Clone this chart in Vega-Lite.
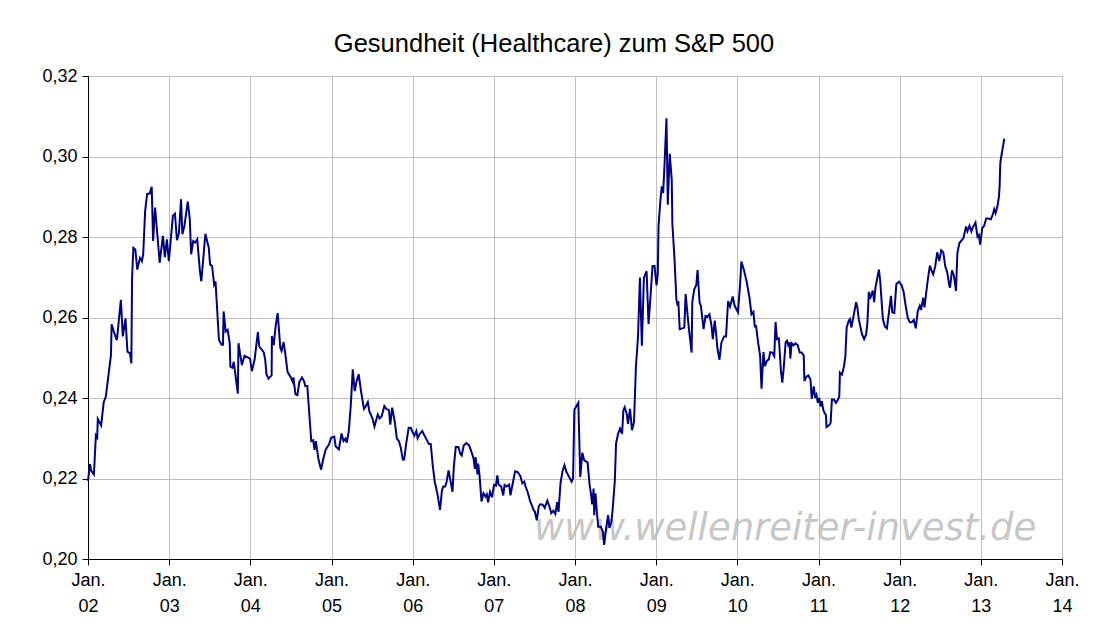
{
  "$schema": "https://vega.github.io/schema/vega-lite/v6.json",
  "width": 974,
  "height": 483,
  "autosize": {"type": "none"},
  "padding": {"left": 88, "top": 76, "right": 34, "bottom": 73},
  "background": "white",
  "title": {"text": "Gesundheit (Healthcare) zum S&P 500", "font": "Liberation Sans", "fontSize": 25.5, "fontWeight": "normal", "color": "black", "anchor": "middle", "dx": -21, "offset": 10, "frame": "group"},
  "config": {"view": {"stroke": "#808080", "strokeWidth": 1}},
  "layer": [
    {
      "data": {"values": [{}]},
      "mark": {"type": "text", "font": "DejaVu Sans", "fontSize": 37, "fontStyle": "italic", "color": "#bdbdbd", "opacity": 0.85, "align": "center", "baseline": "alphabetic"},
      "encoding": {
        "text": {"value": "www.wellenreiter-invest.de"},
        "x": {"datum": 2010.59, "type": "quantitative"},
        "y": {"datum": 0.2047, "type": "quantitative"}
      }
    },
    {
      "data": {"values": [
        {"t":2002.000,"v":0.2194},{"t":2002.024,"v":0.2236},{"t":2002.040,"v":0.2219},{"t":2002.073,"v":0.2210},{"t":2002.097,"v":0.2307},{"t":2002.113,"v":0.2302},{"t":2002.121,"v":0.2348},{"t":2002.162,"v":0.2332},{"t":2002.194,"v":0.2390},{"t":2002.219,"v":0.2403},{"t":2002.283,"v":0.2507},{"t":2002.291,"v":0.2583},{"t":2002.324,"v":0.2561},{"t":2002.356,"v":0.2544},{"t":2002.405,"v":0.2644},{"t":2002.429,"v":0.2553},{"t":2002.462,"v":0.2598},{"t":2002.486,"v":0.2515},{"t":2002.518,"v":0.2511},{"t":2002.534,"v":0.2486},{"t":2002.543,"v":0.2698},{"t":2002.559,"v":0.2773},{"t":2002.583,"v":0.2769},{"t":2002.607,"v":0.2719},{"t":2002.640,"v":0.2748},{"t":2002.664,"v":0.2740},{"t":2002.680,"v":0.2757},{"t":2002.704,"v":0.2865},{"t":2002.729,"v":0.2907},{"t":2002.761,"v":0.2908},{"t":2002.785,"v":0.2925},{"t":2002.802,"v":0.2790},{"t":2002.826,"v":0.2873},{"t":2002.858,"v":0.2798},{"t":2002.883,"v":0.2736},{"t":2002.923,"v":0.2803},{"t":2002.947,"v":0.2750},{"t":2002.972,"v":0.2794},{"t":2002.996,"v":0.2740},
        {"t":2003.046,"v":0.2853},{"t":2003.071,"v":0.2858},{"t":2003.096,"v":0.2792},{"t":2003.121,"v":0.2811},{"t":2003.146,"v":0.2894},{"t":2003.163,"v":0.2807},{"t":2003.188,"v":0.2828},{"t":2003.229,"v":0.2888},{"t":2003.254,"v":0.2844},{"t":2003.271,"v":0.2757},{"t":2003.296,"v":0.2790},{"t":2003.321,"v":0.2786},{"t":2003.346,"v":0.2794},{"t":2003.379,"v":0.2715},{"t":2003.396,"v":0.2690},{"t":2003.421,"v":0.2748},{"t":2003.446,"v":0.2808},{"t":2003.488,"v":0.2773},{"t":2003.504,"v":0.2732},{"t":2003.529,"v":0.2728},{"t":2003.554,"v":0.2682},{"t":2003.571,"v":0.2690},{"t":2003.613,"v":0.2544},{"t":2003.646,"v":0.2532},{"t":2003.663,"v":0.2532},{"t":2003.671,"v":0.2615},{"t":2003.696,"v":0.2565},{"t":2003.721,"v":0.2569},{"t":2003.746,"v":0.2536},{"t":2003.754,"v":0.2478},{"t":2003.779,"v":0.2475},{"t":2003.796,"v":0.2490},{"t":2003.846,"v":0.2411},{"t":2003.854,"v":0.2536},{"t":2003.896,"v":0.2482},{"t":2003.929,"v":0.2505},{"t":2003.996,"v":0.2498},
        {"t":2004.020,"v":0.2467},{"t":2004.053,"v":0.2496},{"t":2004.093,"v":0.2564},{"t":2004.110,"v":0.2528},{"t":2004.166,"v":0.2513},{"t":2004.183,"v":0.2496},{"t":2004.199,"v":0.2459},{"t":2004.223,"v":0.2448},{"t":2004.262,"v":0.2456},{"t":2004.266,"v":0.2554},{"t":2004.288,"v":0.2531},{"t":2004.312,"v":0.2579},{"t":2004.337,"v":0.2611},{"t":2004.369,"v":0.2525},{"t":2004.385,"v":0.2517},{"t":2004.410,"v":0.2539},{"t":2004.434,"v":0.2505},{"t":2004.458,"v":0.2465},{"t":2004.499,"v":0.2451},{"t":2004.523,"v":0.2440},{"t":2004.531,"v":0.2451},{"t":2004.556,"v":0.2409},{"t":2004.580,"v":0.2407},{"t":2004.604,"v":0.2440},{"t":2004.637,"v":0.2451},{"t":2004.661,"v":0.2442},{"t":2004.677,"v":0.2430},{"t":2004.702,"v":0.2430},{"t":2004.734,"v":0.2339},{"t":2004.751,"v":0.2293},{"t":2004.775,"v":0.2295},{"t":2004.791,"v":0.2271},{"t":2004.807,"v":0.2293},{"t":2004.840,"v":0.2247},{"t":2004.872,"v":0.2222},{"t":2004.897,"v":0.2247},{"t":2004.929,"v":0.2272},{"t":2004.970,"v":0.2285},{"t":2004.994,"v":0.2301},
        {"t":2005.034,"v":0.2304},{"t":2005.051,"v":0.2280},{"t":2005.091,"v":0.2272},{"t":2005.124,"v":0.2312},{"t":2005.148,"v":0.2293},{"t":2005.172,"v":0.2299},{"t":2005.189,"v":0.2289},{"t":2005.213,"v":0.2318},{"t":2005.237,"v":0.2380},{"t":2005.262,"v":0.2471},{"t":2005.286,"v":0.2417},{"t":2005.310,"v":0.2442},{"t":2005.335,"v":0.2459},{"t":2005.367,"v":0.2413},{"t":2005.400,"v":0.2373},{"t":2005.424,"v":0.2380},{"t":2005.448,"v":0.2390},{"t":2005.465,"v":0.2368},{"t":2005.505,"v":0.2349},{"t":2005.529,"v":0.2329},{"t":2005.570,"v":0.2359},{"t":2005.594,"v":0.2349},{"t":2005.619,"v":0.2355},{"t":2005.651,"v":0.2380},{"t":2005.675,"v":0.2373},{"t":2005.708,"v":0.2370},{"t":2005.724,"v":0.2334},{"t":2005.748,"v":0.2376},{"t":2005.781,"v":0.2339},{"t":2005.805,"v":0.2299},{"t":2005.830,"v":0.2293},{"t":2005.854,"v":0.2276},{"t":2005.878,"v":0.2247},{"t":2005.895,"v":0.2247},{"t":2005.919,"v":0.2285},{"t":2005.951,"v":0.2326},{"t":2005.976,"v":0.2326},
        {"t":2006.020,"v":0.2306},{"t":2006.045,"v":0.2318},{"t":2006.061,"v":0.2300},{"t":2006.085,"v":0.2310},{"t":2006.118,"v":0.2318},{"t":2006.142,"v":0.2308},{"t":2006.174,"v":0.2296},{"t":2006.199,"v":0.2286},{"t":2006.223,"v":0.2286},{"t":2006.247,"v":0.2233},{"t":2006.272,"v":0.2192},{"t":2006.304,"v":0.2163},{"t":2006.337,"v":0.2122},{"t":2006.361,"v":0.2171},{"t":2006.377,"v":0.2180},{"t":2006.402,"v":0.2180},{"t":2006.418,"v":0.2192},{"t":2006.442,"v":0.2220},{"t":2006.467,"v":0.2193},{"t":2006.491,"v":0.2167},{"t":2006.507,"v":0.2229},{"t":2006.531,"v":0.2278},{"t":2006.564,"v":0.2278},{"t":2006.588,"v":0.2261},{"t":2006.604,"v":0.2257},{"t":2006.629,"v":0.2282},{"t":2006.661,"v":0.2288},{"t":2006.694,"v":0.2283},{"t":2006.726,"v":0.2265},{"t":2006.751,"v":0.2249},{"t":2006.767,"v":0.2224},{"t":2006.775,"v":0.2253},{"t":2006.799,"v":0.2210},{"t":2006.807,"v":0.2237},{"t":2006.824,"v":0.2208},{"t":2006.848,"v":0.2143},{"t":2006.872,"v":0.2163},{"t":2006.897,"v":0.2155},{"t":2006.913,"v":0.2161},{"t":2006.929,"v":0.2141},{"t":2006.953,"v":0.2167},{"t":2006.978,"v":0.2153},
        {"t":2007.002,"v":0.2184},{"t":2007.026,"v":0.2182},{"t":2007.043,"v":0.2208},{"t":2007.059,"v":0.2185},{"t":2007.091,"v":0.2180},{"t":2007.116,"v":0.2158},{"t":2007.132,"v":0.2184},{"t":2007.156,"v":0.2180},{"t":2007.189,"v":0.2185},{"t":2007.205,"v":0.2158},{"t":2007.237,"v":0.2192},{"t":2007.262,"v":0.2218},{"t":2007.294,"v":0.2216},{"t":2007.327,"v":0.2206},{"t":2007.351,"v":0.2188},{"t":2007.375,"v":0.2192},{"t":2007.391,"v":0.2180},{"t":2007.416,"v":0.2167},{"t":2007.448,"v":0.2143},{"t":2007.465,"v":0.2135},{"t":2007.489,"v":0.2122},{"t":2007.505,"v":0.2118},{"t":2007.529,"v":0.2096},{"t":2007.554,"v":0.2131},{"t":2007.570,"v":0.2136},{"t":2007.602,"v":0.2135},{"t":2007.627,"v":0.2127},{"t":2007.659,"v":0.2145},{"t":2007.684,"v":0.2131},{"t":2007.708,"v":0.2114},{"t":2007.732,"v":0.2120},{"t":2007.757,"v":0.2112},{"t":2007.781,"v":0.2141},{"t":2007.797,"v":0.2117},{"t":2007.822,"v":0.2190},{"t":2007.846,"v":0.2218},{"t":2007.870,"v":0.2233},{"t":2007.895,"v":0.2216},{"t":2007.927,"v":0.2204},{"t":2007.959,"v":0.2192},{"t":2007.976,"v":0.2200},{"t":2007.992,"v":0.2371},
        {"t":2008.041,"v":0.2388},{"t":2008.065,"v":0.2204},{"t":2008.090,"v":0.2264},{"t":2008.114,"v":0.2245},{"t":2008.155,"v":0.2240},{"t":2008.180,"v":0.2184},{"t":2008.196,"v":0.2163},{"t":2008.212,"v":0.2136},{"t":2008.229,"v":0.2175},{"t":2008.237,"v":0.2109},{"t":2008.253,"v":0.2163},{"t":2008.269,"v":0.2118},{"t":2008.286,"v":0.2080},{"t":2008.318,"v":0.2080},{"t":2008.343,"v":0.2068},{"t":2008.359,"v":0.2035},{"t":2008.384,"v":0.2077},{"t":2008.408,"v":0.2109},{"t":2008.424,"v":0.2077},{"t":2008.449,"v":0.2093},{"t":2008.465,"v":0.2126},{"t":2008.490,"v":0.2192},{"t":2008.506,"v":0.2287},{"t":2008.531,"v":0.2311},{"t":2008.555,"v":0.2324},{"t":2008.580,"v":0.2311},{"t":2008.596,"v":0.2369},{"t":2008.612,"v":0.2377},{"t":2008.637,"v":0.2361},{"t":2008.653,"v":0.2336},{"t":2008.678,"v":0.2373},{"t":2008.702,"v":0.2320},{"t":2008.727,"v":0.2340},{"t":2008.751,"v":0.2480},{"t":2008.776,"v":0.2551},{"t":2008.800,"v":0.2699},{"t":2008.824,"v":0.2530},{"t":2008.849,"v":0.2699},{"t":2008.882,"v":0.2715},{"t":2008.906,"v":0.2584},{"t":2008.931,"v":0.2654},{"t":2008.955,"v":0.2728},{"t":2008.980,"v":0.2728},
        {"t":2009.004,"v":0.2680},{"t":2009.020,"v":0.2707},{"t":2009.029,"v":0.2827},{"t":2009.053,"v":0.2893},{"t":2009.069,"v":0.2926},{"t":2009.086,"v":0.2909},{"t":2009.102,"v":0.2975},{"t":2009.127,"v":0.3095},{"t":2009.143,"v":0.2880},{"t":2009.167,"v":0.3007},{"t":2009.192,"v":0.2942},{"t":2009.200,"v":0.2831},{"t":2009.224,"v":0.2753},{"t":2009.249,"v":0.2645},{"t":2009.265,"v":0.2629},{"t":2009.273,"v":0.2641},{"t":2009.290,"v":0.2571},{"t":2009.322,"v":0.2573},{"t":2009.347,"v":0.2575},{"t":2009.363,"v":0.2658},{"t":2009.380,"v":0.2621},{"t":2009.404,"v":0.2571},{"t":2009.437,"v":0.2513},{"t":2009.445,"v":0.2637},{"t":2009.469,"v":0.2670},{"t":2009.494,"v":0.2680},{"t":2009.510,"v":0.2718},{"t":2009.535,"v":0.2637},{"t":2009.551,"v":0.2629},{"t":2009.584,"v":0.2571},{"t":2009.608,"v":0.2604},{"t":2009.633,"v":0.2602},{"t":2009.657,"v":0.2608},{"t":2009.682,"v":0.2579},{"t":2009.698,"v":0.2546},{"t":2009.722,"v":0.2592},{"t":2009.739,"v":0.2559},{"t":2009.755,"v":0.2523},{"t":2009.780,"v":0.2495},{"t":2009.804,"v":0.2538},{"t":2009.837,"v":0.2553},{"t":2009.861,"v":0.2553},{"t":2009.886,"v":0.2641},{"t":2009.910,"v":0.2627},{"t":2009.943,"v":0.2652},{"t":2009.967,"v":0.2629},
        {"t":2010.008,"v":0.2613},{"t":2010.033,"v":0.2679},{"t":2010.050,"v":0.2739},{"t":2010.083,"v":0.2717},{"t":2010.116,"v":0.2688},{"t":2010.149,"v":0.2650},{"t":2010.174,"v":0.2608},{"t":2010.198,"v":0.2614},{"t":2010.215,"v":0.2578},{"t":2010.231,"v":0.2579},{"t":2010.256,"v":0.2538},{"t":2010.281,"v":0.2504},{"t":2010.298,"v":0.2423},{"t":2010.322,"v":0.2514},{"t":2010.339,"v":0.2479},{"t":2010.364,"v":0.2492},{"t":2010.388,"v":0.2496},{"t":2010.405,"v":0.2514},{"t":2010.430,"v":0.2513},{"t":2010.455,"v":0.2504},{"t":2010.471,"v":0.2589},{"t":2010.488,"v":0.2546},{"t":2010.512,"v":0.2548},{"t":2010.537,"v":0.2467},{"t":2010.554,"v":0.2438},{"t":2010.570,"v":0.2471},{"t":2010.595,"v":0.2538},{"t":2010.612,"v":0.2542},{"t":2010.628,"v":0.2531},{"t":2010.645,"v":0.2538},{"t":2010.653,"v":0.2498},{"t":2010.669,"v":0.2536},{"t":2010.694,"v":0.2531},{"t":2010.719,"v":0.2536},{"t":2010.744,"v":0.2531},{"t":2010.769,"v":0.2513},{"t":2010.793,"v":0.2513},{"t":2010.818,"v":0.2506},{"t":2010.826,"v":0.2442},{"t":2010.851,"v":0.2453},{"t":2010.876,"v":0.2456},{"t":2010.901,"v":0.2446},{"t":2010.917,"v":0.2398},{"t":2010.942,"v":0.2429},{"t":2010.959,"v":0.2400},{"t":2010.975,"v":0.2408},{"t":2010.992,"v":0.2388},
        {"t":2011.008,"v":0.2400},{"t":2011.025,"v":0.2379},{"t":2011.041,"v":0.2392},{"t":2011.058,"v":0.2371},{"t":2011.074,"v":0.2363},{"t":2011.091,"v":0.2358},{"t":2011.099,"v":0.2328},{"t":2011.132,"v":0.2333},{"t":2011.149,"v":0.2338},{"t":2011.165,"v":0.2396},{"t":2011.190,"v":0.2396},{"t":2011.215,"v":0.2388},{"t":2011.240,"v":0.2396},{"t":2011.256,"v":0.2404},{"t":2011.264,"v":0.2463},{"t":2011.289,"v":0.2458},{"t":2011.314,"v":0.2479},{"t":2011.331,"v":0.2504},{"t":2011.347,"v":0.2575},{"t":2011.372,"v":0.2592},{"t":2011.388,"v":0.2596},{"t":2011.405,"v":0.2575},{"t":2011.421,"v":0.2592},{"t":2011.446,"v":0.2619},{"t":2011.463,"v":0.2638},{"t":2011.479,"v":0.2625},{"t":2011.496,"v":0.2596},{"t":2011.512,"v":0.2581},{"t":2011.537,"v":0.2558},{"t":2011.562,"v":0.2546},{"t":2011.587,"v":0.2558},{"t":2011.603,"v":0.2588},{"t":2011.620,"v":0.2664},{"t":2011.636,"v":0.2646},{"t":2011.653,"v":0.2658},{"t":2011.669,"v":0.2667},{"t":2011.686,"v":0.2638},{"t":2011.702,"v":0.2675},{"t":2011.719,"v":0.2692},{"t":2011.744,"v":0.2719},{"t":2011.760,"v":0.2692},{"t":2011.777,"v":0.2642},{"t":2011.793,"v":0.2596},{"t":2011.818,"v":0.2578},{"t":2011.843,"v":0.2573},{"t":2011.868,"v":0.2613},{"t":2011.893,"v":0.2654},{"t":2011.909,"v":0.2613},{"t":2011.934,"v":0.2611},{"t":2011.959,"v":0.2683},{"t":2011.992,"v":0.2689},
        {"t":2012.025,"v":0.2680},{"t":2012.050,"v":0.2662},{"t":2012.074,"v":0.2629},{"t":2012.099,"v":0.2600},{"t":2012.124,"v":0.2588},{"t":2012.149,"v":0.2588},{"t":2012.174,"v":0.2594},{"t":2012.198,"v":0.2573},{"t":2012.223,"v":0.2616},{"t":2012.248,"v":0.2629},{"t":2012.264,"v":0.2619},{"t":2012.289,"v":0.2649},{"t":2012.306,"v":0.2625},{"t":2012.322,"v":0.2653},{"t":2012.347,"v":0.2694},{"t":2012.372,"v":0.2729},{"t":2012.388,"v":0.2719},{"t":2012.413,"v":0.2707},{"t":2012.438,"v":0.2727},{"t":2012.463,"v":0.2762},{"t":2012.488,"v":0.2740},{"t":2012.512,"v":0.2767},{"t":2012.537,"v":0.2762},{"t":2012.562,"v":0.2727},{"t":2012.587,"v":0.2711},{"t":2012.612,"v":0.2678},{"t":2012.620,"v":0.2674},{"t":2012.645,"v":0.2717},{"t":2012.669,"v":0.2703},{"t":2012.694,"v":0.2666},{"t":2012.711,"v":0.2760},{"t":2012.736,"v":0.2785},{"t":2012.760,"v":0.2791},{"t":2012.785,"v":0.2797},{"t":2012.818,"v":0.2826},{"t":2012.835,"v":0.2814},{"t":2012.860,"v":0.2828},{"t":2012.884,"v":0.2814},{"t":2012.901,"v":0.2824},{"t":2012.934,"v":0.2836},{"t":2012.959,"v":0.2801},{"t":2012.975,"v":0.2805},{"t":2012.992,"v":0.2781},
        {"t":2013.017,"v":0.2822},{"t":2013.041,"v":0.2828},{"t":2013.066,"v":0.2846},{"t":2013.091,"v":0.2846},{"t":2013.124,"v":0.2844},{"t":2013.149,"v":0.2857},{"t":2013.165,"v":0.2869},{"t":2013.182,"v":0.2859},{"t":2013.207,"v":0.2879},{"t":2013.223,"v":0.2900},{"t":2013.231,"v":0.2924},{"t":2013.240,"v":0.2984},{"t":2013.256,"v":0.3005},{"t":2013.273,"v":0.3025},{"t":2013.289,"v":0.3044}
      ]},
      "mark": {"type": "line", "color": "#000080", "strokeWidth": 2, "strokeJoin": "miter"},
      "encoding": {
        "x": {
          "field": "t", "type": "quantitative",
          "scale": {"domain": [2002, 2014], "nice": false, "zero": false},
          "axis": {
            "values": [2002, 2003, 2004, 2005, 2006, 2007, 2008, 2009, 2010, 2011, 2012, 2013, 2014],
            "labelExpr": "['Jan.', substring(toString(datum.value), 2, 4)]",
            "title": null, "grid": true, "gridColor": "#c0c0c0", "gridWidth": 1,
            "domainColor": "black", "domainWidth": 1, "tickColor": "black", "tickSize": 6,
            "labelFont": "Liberation Sans", "labelFontSize": 18, "labelColor": "black",
            "labelPadding": 6, "labelLineHeight": 26, "labelBaseline": "top",
            "labelAlign": "center", "labelFlush": false, "labelOverlap": false
          }
        },
        "y": {
          "field": "v", "type": "quantitative",
          "scale": {"domain": [0.2, 0.32], "nice": false, "zero": false},
          "axis": {
            "values": [0.2, 0.22, 0.24, 0.26, 0.28, 0.3, 0.32],
            "labelExpr": "replace(format(datum.value, '.2f'), '.', ',')",
            "title": null, "grid": true, "gridColor": "#c0c0c0", "gridWidth": 1,
            "domainColor": "black", "domainWidth": 1, "tickColor": "black", "tickSize": 6,
            "labelFont": "Liberation Sans", "labelFontSize": 18, "labelColor": "black",
            "labelPadding": 5, "labelFlush": false, "labelOverlap": false
          }
        }
      }
    }
  ]
}
